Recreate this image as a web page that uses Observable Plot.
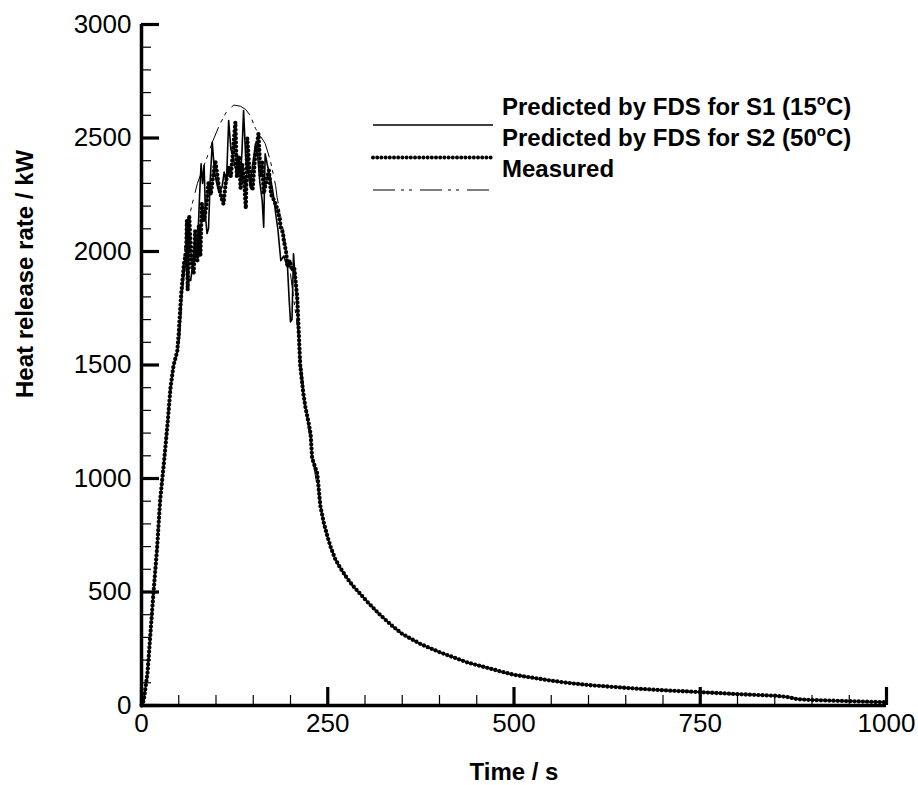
<!DOCTYPE html>
<html>
<head>
<meta charset="utf-8">
<script src="https://cdn.jsdelivr.net/npm/d3@7"></script>
<script src="https://cdn.jsdelivr.net/npm/@observablehq/plot@0.6"></script>
<style>
  html, body { margin: 0; padding: 0; background: #fff; }
  #wrap { position: relative; width: 918px; height: 785px; }
  #legend { position: absolute; left: 0; top: 0; pointer-events: none; }
  text { font-family: "Liberation Sans", Arial, sans-serif; }
</style>
</head>
<body>
<div id="wrap"></div>
<script>
// ---------- data ----------
const seriesNames = ["Predicted by FDS for S1 (15", "Predicted by FDS for S2 (50", "Measured"];

// shared early growth phase
const riseTime = [0, 3, 8, 12, 16, 21, 25, 30, 35, 39, 43, 48];
const riseHRR  = [0, 22, 141, 317, 493, 697, 903, 1066, 1242, 1402, 1498, 1560];

// S1 (solid) peak region
const s1Time = [51, 54, 57, 60, 63, 66, 69, 72, 75, 78, 80, 82, 84, 86, 88, 90, 92, 95, 98, 101, 104, 108, 111, 114, 117, 120, 122, 125, 128, 131, 133, 135, 137, 140, 143, 146, 149, 153, 156, 159, 162, 164, 166, 169, 173, 177, 180, 183, 187, 191, 194, 196, 198, 200, 202, 204, 207, 210, 213, 217, 220, 224, 227, 229, 232, 236, 240, 245];
const s1HRR  = [1620, 1800, 1900, 1960, 1880, 1872, 1950, 2050, 2000, 2250, 2386, 2300, 2380, 2150, 2079, 2101, 2300, 2481, 2350, 2300, 2260, 2283, 2350, 2300, 2577, 2450, 2430, 2380, 2350, 2400, 2327, 2450, 2621, 2400, 2350, 2283, 2380, 2474, 2420, 2300, 2225, 2107, 2430, 2380, 2327, 2250, 2170, 2100, 1960, 1980, 1950, 1931, 1800, 1690, 1700, 1990, 1850, 1700, 1480, 1380, 1314, 1250, 1197, 1090, 1060, 1021, 880, 800];

// S2 (dotted) peak region
const s2Time = [50, 53, 57, 60, 61, 62, 64, 67, 70, 72, 75, 77, 79, 81, 84, 87, 90, 93, 96, 99, 102, 104, 107, 110, 113, 117, 120, 123, 126, 128, 131, 133, 135, 138, 140, 142, 145, 149, 152, 155, 157, 160, 162, 164, 167, 171, 174, 178, 181, 184, 187, 190, 191, 194, 196, 199, 202, 205, 209, 211, 213, 217, 220, 224, 227, 229, 232, 236, 240, 245];
const s2HRR  = [1640, 1800, 1946, 2000, 2137, 1830, 2159, 1950, 1900, 2090, 1960, 2115, 1980, 2211, 2137, 2200, 2305, 2250, 2330, 2401, 2330, 2283, 2240, 2210, 2300, 2371, 2330, 2450, 2570, 2327, 2420, 2280, 2386, 2300, 2189, 2498, 2350, 2269, 2400, 2470, 2519, 2327, 2400, 2255, 2300, 2357, 2250, 2225, 2200, 2167, 2107, 2080, 2048, 2000, 1931, 1960, 1916, 1930, 1800, 1650, 1500, 1380, 1314, 1250, 1197, 1090, 1060, 1021, 880, 800];

// Measured (dash-dot) peak region
const measTime = [52, 55, 61, 66, 75, 88, 95, 105, 115, 124, 133, 140, 146, 153, 166, 173, 180, 182, 190, 200, 210, 220, 230, 240, 245];
const measHRR  = [1680, 1900, 2129, 2181, 2300, 2415, 2481, 2560, 2621, 2645, 2640, 2625, 2599, 2542, 2476, 2400, 2291, 2239, 2100, 1900, 1650, 1320, 1080, 880, 800];

// shared decay phase
const tailTime = [250, 254, 260, 267, 275, 283, 294, 305, 320, 335, 350, 375, 400, 437, 482, 500, 549, 571, 600, 661, 700, 750, 800, 850, 866, 880, 900, 951, 1000];
const tailHRR  = [740, 697, 645, 605, 565, 530, 490, 450, 400, 355, 315, 270, 235, 190, 150, 135, 110, 100, 90, 75, 67, 59, 50, 43, 38, 28, 24, 19, 14];

const xMajor = [0, 250, 500, 750, 1000];
const yMajor = [0, 500, 1000, 1500, 2000, 2500, 3000];
const xMinor = [50, 100, 150, 200, 300, 350, 400, 450, 550, 600, 650, 700, 800, 850, 900, 950];
const yMinor = [100, 200, 300, 400, 600, 700, 800, 900, 1100, 1200, 1300, 1400, 1600, 1700, 1800, 1900, 2100, 2200, 2300, 2400, 2600, 2700, 2800, 2900];

const xLabel = "Time / s";
const yLabel = "Heat release rate / kW";

// ---------- build rows ----------
function rows(t, v) { return t.map((d, i) => ({t: d, v: v[i]})); }
const rise = rows(riseTime, riseHRR);
const tail = rows(tailTime, tailHRR);
const s1 = [...rise, ...rows(s1Time, s1HRR), ...tail];
const s2 = [...rise, ...rows(s2Time, s2HRR), ...tail];
const meas = [...rise, ...rows(measTime, measHRR), ...tail];

const font = "'Liberation Sans', Arial, Helvetica, sans-serif";

const chart = Plot.plot({
  width: 918,
  height: 785,
  marginLeft: 141,
  marginRight: 32,
  marginTop: 24,
  marginBottom: 80,
  x: {domain: [0, 1000], axis: null},
  y: {domain: [0, 3000], axis: null},
  style: {fontFamily: font, background: "white", color: "black"},
  marks: [
    // minor ticks (pointing inward)
    Plot.axisX({ticks: xMinor, tickSize: -10, strokeWidth: 1.2, tickFormat: () => "", label: null}),
    Plot.axisY({ticks: yMinor, tickSize: -10, strokeWidth: 1.2, tickFormat: () => "", label: null}),
    // major ticks (pointing inward)
    Plot.axisX({ticks: xMajor, tickSize: -18, strokeWidth: 3.2, tickFormat: () => "", label: null}),
    Plot.axisY({ticks: yMajor, tickSize: -18, strokeWidth: 3.2, tickFormat: () => "", label: null}),
    // tick labels
    Plot.axisX({ticks: xMajor, tickSize: 0, tickPadding: 8, fontSize: 26, label: null, tickFormat: d => String(d)}),
    Plot.axisY({ticks: yMajor, tickSize: 0, tickPadding: 10, fontSize: 26, label: null, tickFormat: d => String(d)}),
    // axis lines
    Plot.ruleY([0], {stroke: "black", strokeWidth: 3.5}),
    Plot.ruleX([0], {stroke: "black", strokeWidth: 3.5}),
    // series
    Plot.line(meas, {x: "t", y: "v", stroke: "black", strokeWidth: 1, strokeDasharray: "22,6,3,5,3,8"}),
    Plot.line(s1, {x: "t", y: "v", stroke: "black", strokeWidth: 1.6}),
    Plot.line(s2, {x: "t", y: "v", stroke: "black", strokeWidth: 4.3, strokeLinecap: "round", strokeDasharray: "0,4.2"}),
    // axis titles
    Plot.text([xLabel], {text: d => d, frameAnchor: "bottom", dy: 74, fontSize: 24, fontWeight: "bold", fill: "black"}),
    Plot.text([yLabel], {text: d => d, frameAnchor: "left", dx: -116, dy: 33, rotate: -90, fontSize: 24, fontWeight: "bold", fill: "black"})
  ]
});

const wrap = document.getElementById("wrap");
wrap.appendChild(chart);

// ---------- legend overlay ----------
const NS = "http://www.w3.org/2000/svg";
const leg = document.createElementNS(NS, "svg");
leg.setAttribute("id", "legend");
leg.setAttribute("width", 918);
leg.setAttribute("height", 785);
const styles = [
  {w: 1.6, dash: null, cap: "butt"},
  {w: 4, dash: "0,4.2", cap: "round"},
  {w: 1, dash: "22,6,3,5,3,8", cap: "butt"}
];
const sup = [true, true, false];
seriesNames.forEach((name, i) => {
  const ly = 125 + i * 32.5;
  const line = document.createElementNS(NS, "line");
  line.setAttribute("x1", 373); line.setAttribute("x2", 493);
  line.setAttribute("y1", ly); line.setAttribute("y2", ly);
  line.setAttribute("stroke", "black");
  line.setAttribute("stroke-width", styles[i].w);
  line.setAttribute("stroke-linecap", styles[i].cap);
  if (styles[i].dash) line.setAttribute("stroke-dasharray", styles[i].dash);
  leg.appendChild(line);
  const t = document.createElementNS(NS, "text");
  t.setAttribute("x", 502);
  t.setAttribute("y", 115 + i * 31);
  t.setAttribute("font-size", 24);
  t.setAttribute("font-weight", "bold");
  t.setAttribute("font-family", font);
  const a = document.createElementNS(NS, "tspan");
  a.textContent = name;
  t.appendChild(a);
  if (sup[i]) {
    const o = document.createElementNS(NS, "tspan");
    o.setAttribute("font-size", 15);
    o.setAttribute("dy", -10);
    o.textContent = "o";
    t.appendChild(o);
    const c = document.createElementNS(NS, "tspan");
    c.setAttribute("dy", 10);
    c.textContent = "C)";
    t.appendChild(c);
  }
  leg.appendChild(t);
});
wrap.appendChild(leg);
</script>
</body>
</html>
